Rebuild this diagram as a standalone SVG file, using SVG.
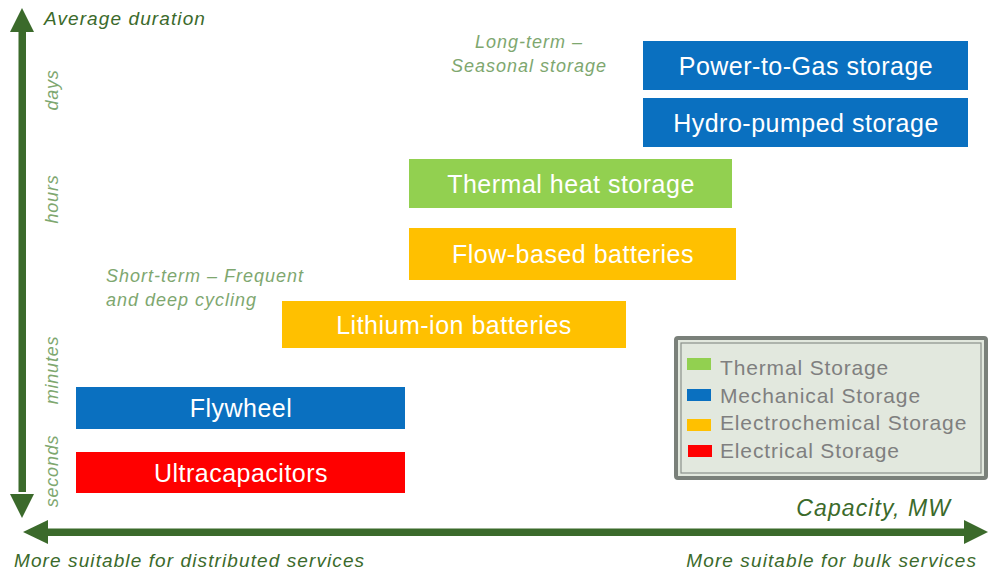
<svg xmlns="http://www.w3.org/2000/svg" width="1000" height="576" viewBox="0 0 1000 576">
<defs>
<style>
.box text{font-family:"Liberation Sans",Arial,sans-serif;font-size:25px;letter-spacing:0.5px;fill:#ffffff;text-anchor:middle}
.blue{fill:#0a70c0}
.green{fill:#92d050}
.orange{fill:#ffc000}
.red{fill:#ff0000}
.ax{font-family:"Liberation Sans",Arial,sans-serif;font-style:italic;fill:#3b6a2b;letter-spacing:1.1px}
.tick{font-family:"Liberation Sans",Arial,sans-serif;font-style:italic;font-size:18px;letter-spacing:0.8px;fill:#7ea76f;text-anchor:middle}
.note{font-family:"Liberation Sans",Arial,sans-serif;font-style:italic;font-size:18px;letter-spacing:1px;fill:#7ea76f}
.leg{font-family:"Liberation Sans",Arial,sans-serif;font-size:21px;letter-spacing:0.85px;fill:#7f7f7f}
.axis{fill:#3b6a2b}
</style>
</defs>
<rect width="1000" height="576" fill="#ffffff"/>
<g id="axes">
<rect class="axis" x="18.5" y="30" width="7.5" height="462"/>
<polygon class="axis" points="22,8 34,32 10,32"/>
<polygon class="axis" points="22,518 34,494 10,494"/>
<rect class="axis" x="46" y="528.5" width="922" height="7.5"/>
<polygon class="axis" points="23,532 48,520 48,544"/>
<polygon class="axis" points="988,532 964,520 964,544"/>
</g>
<g id="axis-labels">
<text class="ax" x="44" y="25" font-size="19">Average duration</text>
<text class="ax" x="951" y="516" font-size="23" text-anchor="end" letter-spacing="1.5">Capacity, MW</text>
<text class="ax" x="14" y="567" font-size="19">More suitable for distributed services</text>
<text class="ax" x="977" y="567" font-size="19" text-anchor="end">More suitable for bulk services</text>
<text class="tick" transform="translate(58,90) rotate(-90)">days</text>
<text class="tick" transform="translate(58,199) rotate(-90)">hours</text>
<text class="tick" transform="translate(58,370) rotate(-90)">minutes</text>
<text class="tick" transform="translate(58,471) rotate(-90)">seconds</text>
</g>
<g id="notes">
<text class="note" x="529" y="48" text-anchor="middle">Long-term –</text>
<text class="note" x="529" y="72" text-anchor="middle">Seasonal storage</text>
<text class="note" x="106" y="282">Short-term – Frequent</text>
<text class="note" x="106" y="306">and deep cycling</text>
</g>
<g id="power-to-gas" class="box"><rect class="blue" x="643" y="41" width="325" height="49"/><text x="806" y="75">Power-to-Gas storage</text></g>
<g id="hydro-pumped" class="box"><rect class="blue" x="643" y="98" width="325" height="49"/><text x="806" y="132">Hydro-pumped storage</text></g>
<g id="thermal-heat" class="box"><rect class="green" x="409" y="159" width="323" height="49"/><text x="571" y="193">Thermal heat storage</text></g>
<g id="flow-based" class="box"><rect class="orange" x="409" y="228" width="327" height="52"/><text x="573" y="263">Flow-based batteries</text></g>
<g id="lithium-ion" class="box"><rect class="orange" x="282" y="301" width="344" height="47"/><text x="454" y="334">Lithium-ion batteries</text></g>
<g id="flywheel" class="box"><rect class="blue" x="76" y="387" width="329" height="42"/><text x="241" y="417">Flywheel</text></g>
<g id="ultracapacitors" class="box"><rect class="red" x="76" y="452" width="329" height="41"/><text x="241" y="482">Ultracapacitors</text></g>
<g id="legend">
<rect x="676" y="338" width="310" height="140" fill="#e2e8de" stroke="#7a807a" stroke-width="4" rx="2"/>
<rect x="681" y="343" width="300" height="130" fill="none" stroke="#8a908a" stroke-width="1.2"/>
<rect class="green" x="687" y="358" width="24" height="12"/>
<text class="leg" x="720" y="375">Thermal Storage</text>
<rect class="blue" x="687" y="389" width="24" height="12"/>
<text class="leg" x="720" y="403">Mechanical Storage</text>
<rect class="orange" x="687" y="419" width="24" height="12"/>
<text class="leg" x="720" y="430">Electrochemical Storage</text>
<rect class="red" x="688" y="445" width="24" height="12"/>
<text class="leg" x="720" y="458">Electrical Storage</text>
</g>
</svg>
